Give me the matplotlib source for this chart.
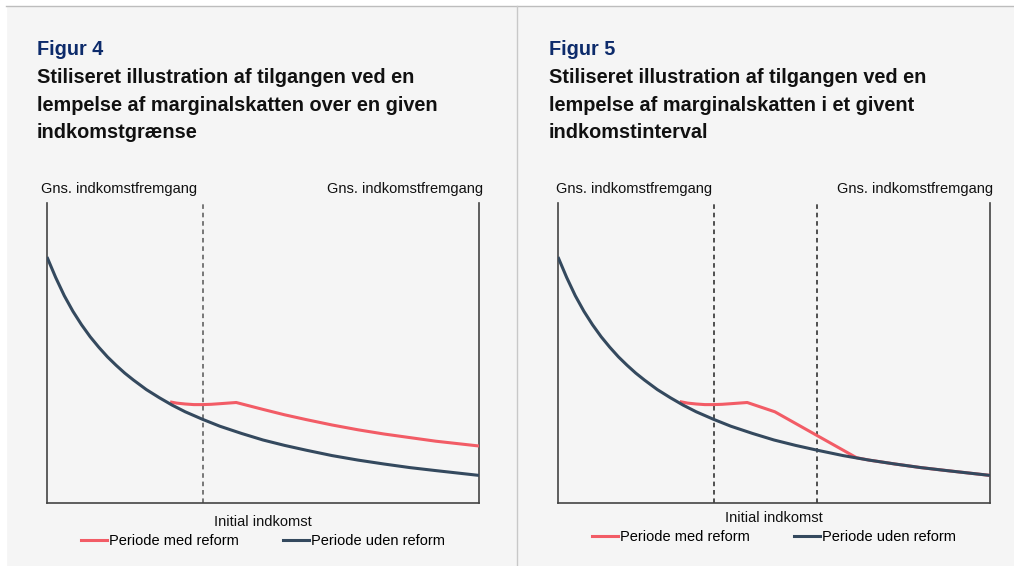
import matplotlib.pyplot as plt
from matplotlib.lines import Line2D

plt.rcParams['font.family'] = ['Liberation Sans', 'DejaVu Sans']

# stylised curves, x and y on a 0-100 scale
x_base = [0, 2, 4, 6, 8, 10, 12, 14, 16, 18, 20, 23, 26, 29, 32, 36, 40, 45,
          50, 55, 60, 66, 72, 78, 84, 90, 95, 100]
y_base = [82, 75.2, 69.1, 63.9, 59.4, 55.4, 51.9, 48.7, 45.9, 43.3, 41.0, 37.8,
          35.1, 32.6, 30.4, 27.9, 25.6, 23.2, 21.0, 19.2, 17.6, 15.8, 14.3, 13.0,
          11.8, 10.8, 10.0, 9.2]

x_ref4 = [28.5, 30, 32, 34, 36, 38, 40, 43.8, 50, 55, 60, 66, 72, 78, 84, 90, 95, 100]
y_ref4 = [33.7, 33.3, 33.0, 32.8, 32.8, 32.9, 33.1, 33.5, 31.2, 29.4, 27.8, 26.0,
          24.4, 23.0, 21.8, 20.6, 19.8, 19.0]

x_ref5 = [28.2, 30, 32, 34, 36, 38, 40, 43.8, 50.2, 69.1, 72, 78, 84, 90, 95, 100]
y_ref5 = [33.8, 33.3, 33.0, 32.8, 32.8, 32.9, 33.1, 33.5, 30.4, 15.1, 14.3, 13.0,
          11.8, 10.8, 10.0, 9.2]

cut4 = [36.1]
cut5 = [36.1, 60]

fig_titles = ['Figur 4', 'Figur 5']
titles = [
    ['Stiliseret illustration af tilgangen ved en',
     'lempelse af marginalskatten over en given',
     'indkomstgrænse'],
    ['Stiliseret illustration af tilgangen ved en',
     'lempelse af marginalskatten i et givent',
     'indkomstinterval'],
]
top_label = 'Gns. indkomstfremgang'
x_label = 'Initial indkomst'
series_names = ['Periode med reform', 'Periode uden reform']

RED = '#f25c66'
BLUE = '#34495e'
NAVY = '#0d2b6b'
BG = '#f5f5f5'

W, H = 1014, 566
fig = plt.figure(figsize=(W / 100, H / 100), dpi=100, facecolor=BG)


def px(x, y):
    return x / W, 1 - y / H


# white margin strips and frame lines
fig.add_artist(plt.Rectangle((0, 0), 6 / W, 1, transform=fig.transFigure,
                             color='white', zorder=0))
fig.add_artist(plt.Rectangle((0, 1 - 5 / H), 1, 5 / H, transform=fig.transFigure,
                             color='white', zorder=0))
fig.add_artist(Line2D([6 / W, 1], [1 - 5.5 / H] * 2, transform=fig.transFigure,
                      color='#bdbdbd', lw=1))
fig.add_artist(Line2D([517 / W] * 2, [0, 1 - 5.5 / H], transform=fig.transFigure,
                      color='#c8c8c8', lw=1))

panels = [
    dict(left=47, tx=37, gl=41, gr=483, xr=x_ref4, yr=y_ref4, cuts=cut4,
         xl_y=525.5, lg_y=541, dash='#555555'),
    dict(left=558, tx=549, gl=556, gr=993, xr=x_ref5, yr=y_ref5, cuts=cut5,
         xl_y=522.5, lg_y=537, dash='#222222'),
]

for i, p in enumerate(panels):
    l, r, t, b = p['left'], p['left'] + 432, 203, 503
    ax = fig.add_axes([l / W, 1 - b / H, (r - l) / W, (b - t) / H])
    ax.set_facecolor(BG)
    ax.set_xlim(0, 100)
    ax.set_ylim(0, 100)
    ax.set_xticks([])
    ax.set_yticks([])
    ax.spines['top'].set_visible(False)
    for s in ['left', 'right', 'bottom']:
        ax.spines[s].set_color('#444444')
        ax.spines[s].set_linewidth(1.2)

    for c in p['cuts']:
        ax.axvline(c, color=p['dash'], lw=1.1, ls=(0, (3, 2.5)))

    ax.plot(p['xr'], p['yr'], color=RED, lw=2.2, solid_joinstyle='round',
            solid_capstyle='butt', zorder=3)
    ax.plot(x_base, y_base, color=BLUE, lw=2.2, solid_joinstyle='round',
            solid_capstyle='butt', zorder=4)

    # headings
    fig.text(*px(p['tx'], 55), fig_titles[i], fontsize=14.3, fontweight='bold',
             color=NAVY, va='baseline')
    for k, line in enumerate(titles[i]):
        fig.text(*px(p['tx'], 83 + k * 27.5), line, fontsize=14.3, fontweight='bold',
                 color='#111111', va='baseline')

    fig.text(*px(p['gl'], 193), top_label, fontsize=10.5, color='#111111', va='baseline')
    fig.text(*px(p['gr'], 193), top_label, fontsize=10.5, color='#111111',
             va='baseline', ha='right')
    fig.text(*px((l + r) / 2, p['xl_y']), x_label, fontsize=10.5, color='#111111',
             va='baseline', ha='center')

    handles = [Line2D([], [], color=RED, lw=2.2), Line2D([], [], color=BLUE, lw=2.2)]
    fig.legend(handles, series_names, loc='center', ncol=2,
               bbox_to_anchor=px((l + r) / 2, p['lg_y']), frameon=False,
               fontsize=10.5, handlelength=1.8, handletextpad=0.15,
               columnspacing=3.0, borderpad=0, borderaxespad=0)

fig.savefig('out.png', dpi=100, facecolor=BG)
